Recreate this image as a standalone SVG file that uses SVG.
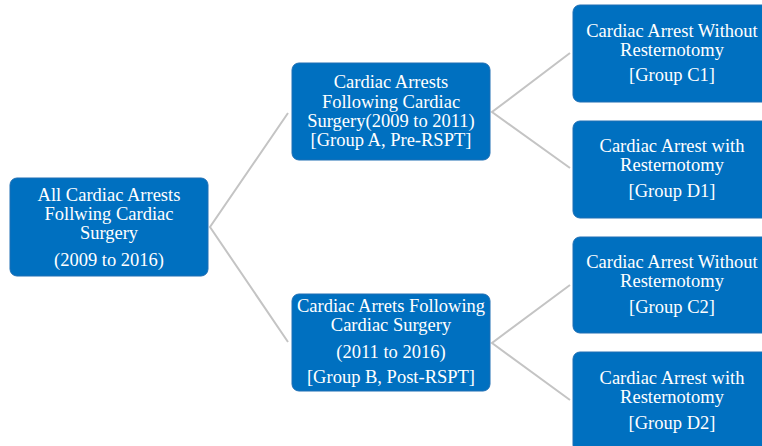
<svg xmlns="http://www.w3.org/2000/svg" width="762" height="446" viewBox="0 0 762 446">
<style>
.box{fill:#0070C0;stroke:#1E6EB4;stroke-width:1}
.t{font-family:"Liberation Serif","Times New Roman",serif;font-size:18.5px;fill:#FFFFFF;text-anchor:middle}
.c{stroke:#C4C4C4;stroke-width:2;fill:none}
</style>
<rect width="762" height="446" fill="#FFFFFF"/>
<g id="connectors">
<polyline class="c" points="288,113 210,227 288,342"/>
<polyline class="c" points="570,53 492,112 570,168"/>
<polyline class="c" points="570,285 492,343 570,400"/>
</g>
<g id="root">
<rect class="box" x="10" y="178" width="198" height="98" rx="7"/>
<text class="t" x="109" y="201">All Cardiac Arrests</text>
<text class="t" x="109" y="220">Follwing Cardiac</text>
<text class="t" x="109" y="239">Surgery</text>
<text class="t" x="109" y="266">(2009 to 2016)</text>
</g>
<g id="groupA">
<rect class="box" x="292" y="63" width="198" height="97" rx="7"/>
<text class="t" x="391" y="88">Cardiac Arrests</text>
<text class="t" x="391" y="108">Following Cardiac</text>
<text class="t" x="391" y="127">Surgery(2009 to 2011)</text>
<text class="t" x="391" y="146">[Group A, Pre-RSPT]</text>
</g>
<g id="groupB">
<rect class="box" x="292" y="294" width="198" height="97" rx="7"/>
<text class="t" x="391" y="312">Cardiac Arrets Following</text>
<text class="t" x="391" y="331">Cardiac Surgery</text>
<text class="t" x="391" y="358">(2011 to 2016)</text>
<text class="t" x="391" y="383">[Group B, Post-RSPT]</text>
</g>
<g id="groupC1">
<rect class="box" x="573" y="5" width="200" height="97" rx="7"/>
<text class="t" x="672" y="37">Cardiac Arrest Without</text>
<text class="t" x="672" y="56">Resternotomy</text>
<text class="t" x="672" y="81">[Group C1]</text>
</g>
<g id="groupD1">
<rect class="box" x="573" y="121" width="200" height="97" rx="7"/>
<text class="t" x="672" y="152">Cardiac Arrest with</text>
<text class="t" x="672" y="171">Resternotomy</text>
<text class="t" x="672" y="197">[Group D1]</text>
</g>
<g id="groupC2">
<rect class="box" x="573" y="237" width="200" height="96" rx="7"/>
<text class="t" x="672" y="268">Cardiac Arrest Without</text>
<text class="t" x="672" y="287">Resternotomy</text>
<text class="t" x="672" y="313">[Group C2]</text>
</g>
<g id="groupD2">
<rect class="box" x="573" y="352" width="200" height="100" rx="7"/>
<text class="t" x="672" y="384">Cardiac Arrest with</text>
<text class="t" x="672" y="403">Resternotomy</text>
<text class="t" x="672" y="429">[Group D2]</text>
</g>
</svg>
